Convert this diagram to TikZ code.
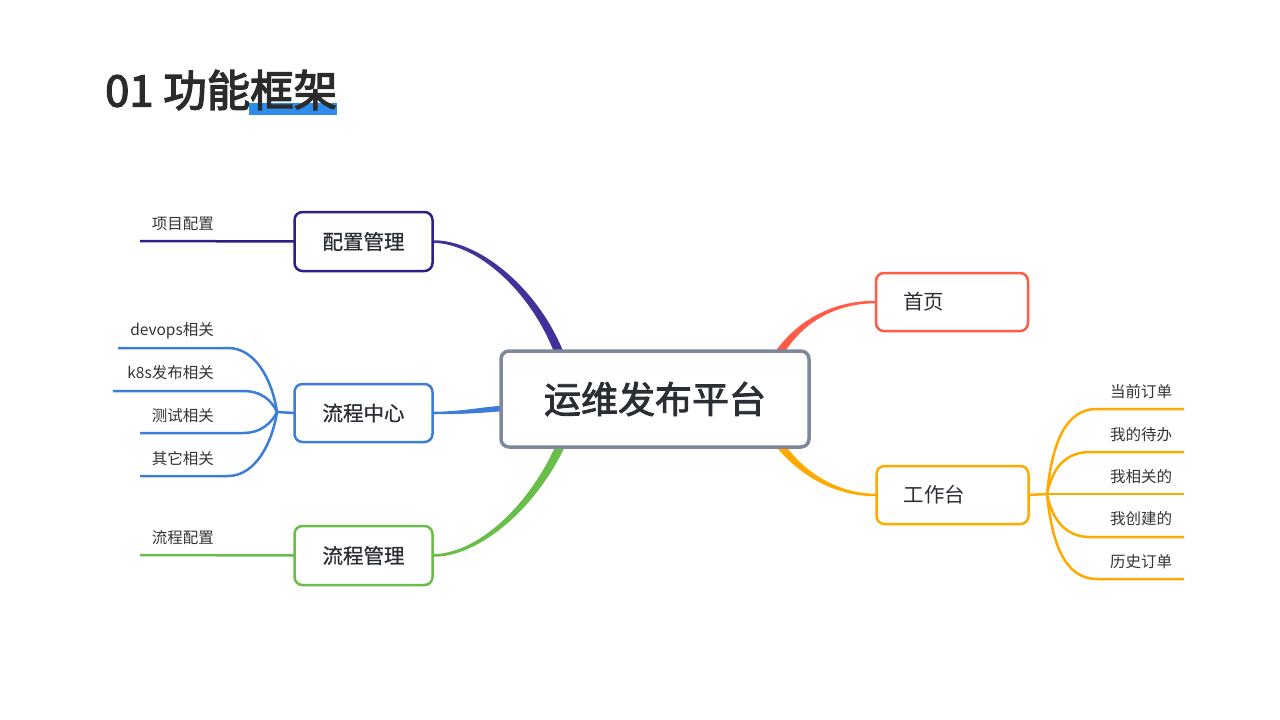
\documentclass[tikz,border=0pt]{standalone}
\usepackage{fontspec}
\setmainfont{Noto Sans CJK SC}
\newfontfamily\cjk{Noto Sans CJK SC}
\newfontfamily\cjkmed[FakeBold=0.8]{Noto Sans CJK SC}
\newfontfamily\cjkheavy[FakeBold=2.3]{Noto Sans CJK SC}
\newfontfamily\cjktitle[FakeBold=3]{Noto Sans CJK SC}
\usetikzlibrary{calc,backgrounds}
\definecolor{cIndigo}{HTML}{2D1E88}
\definecolor{cIndigoC}{HTML}{42319A}
\definecolor{cBlue}{HTML}{3B7DD8}
\definecolor{cGreen}{HTML}{68BE48}
\definecolor{cRed}{HTML}{FF5B47}
\definecolor{cOrange}{HTML}{FFAA00}
\definecolor{cGray}{HTML}{7D889B}
\definecolor{cText}{HTML}{2A2F36}
\definecolor{cLbl}{HTML}{333333}
\definecolor{cTitle}{HTML}{2B2B2B}
\definecolor{cHl}{HTML}{2E8CEB}
\begin{document}
\begin{tikzpicture}[x=1pt,y=-1pt,
  box/.style={draw, fill=white, rounded corners=8pt, line width=2.5pt, outer sep=0pt, inner sep=0pt, text=cText},
  lbox/.style={box, minimum width=138pt, minimum height=59pt, font=\cjkmed\fontsize{20.5}{24}\selectfont},
  rbox/.style={box, minimum height=58pt, inner xsep=27pt, text width=98pt, align=left, font=\cjk\fontsize{20.5}{24}\selectfont},
  lbl/.style={inner sep=0pt, text=cLbl, font=\cjk\fontsize{15.5}{18}\selectfont},
  branch/.style={line width=2.5pt},
]
\useasboundingbox (0,0) rectangle (1280,720);

% title
\node[inner sep=0pt, anchor=west, text=cTitle, font=\cjktitle\fontsize{43.5}{52}\selectfont] (title) at (105,90) {01 功能框架};

% main nodes
\node[box, draw=cGray, line width=3.5pt, minimum width=308pt, minimum height=96pt, font=\cjkheavy\fontsize{37}{44}\selectfont] (ctr) at (655,399) {运维发布平台};
\node[lbox, draw=cIndigo] (cfg) at (363.5,241.5) {配置管理};
\node[lbox, draw=cBlue, minimum height=58pt] (flowc) at (363.5,413) {流程中心};
\node[lbox, draw=cGreen] (flowm) at (363.5,555.5) {流程管理};
\node[rbox, draw=cRed] (home) at (952,302) {首页};
\node[rbox, draw=cOrange] (work) at (952.5,495) {工作台};

% labels
\node[lbl, anchor=east] (l1) at (214,224) {项目配置};
\node[lbl, anchor=east] (l2) at (214,331) {devops相关};
\node[lbl, anchor=east] (l3) at (214,373) {k8s发布相关};
\node[lbl, anchor=east] (l4) at (214,416) {测试相关};
\node[lbl, anchor=east] (l5) at (214,459) {其它相关};
\node[lbl, anchor=east] (l6) at (214,538) {流程配置};
\node[lbl, anchor=west] (r1) at (1110,392) {当前订单};
\node[lbl, anchor=west] (r2) at (1110,435) {我的待办};
\node[lbl, anchor=west] (r3) at (1110,477) {我相关的};
\node[lbl, anchor=west] (r4) at (1110,519) {我创建的};
\node[lbl, anchor=west] (r5) at (1110,562) {历史订单};

% free ends
\coordinate (e1) at (140,241);
\coordinate (hubL) at (277,412);
\coordinate (e2) at (118,348);
\coordinate (e3) at (113,391);
\coordinate (e4) at (140,433);
\coordinate (e5) at (140,476);
\coordinate (e6) at (140,555);
\coordinate (hubR) at (1047,494);
\coordinate (f1) at (1184,409);
\coordinate (f2) at (1184,452);
\coordinate (f3) at (1184,494);
\coordinate (f4) at (1184,537);
\coordinate (f5) at (1184,579);

\begin{scope}[on background layer]
  \fill[cHl] (249,103) rectangle (337,115);
  % tapered main connectors
  \fill[cIndigoC] ($(cfg.east)+(0,-1.25)$) .. controls +(47,-0.75) and +(-25.2,-67) .. ($(ctr.north west)+(64.2,5.5)$)
     -- ($(ctr.north west)+(55.8,8.5)$) .. controls +(-22.8,-65) and +(47,0.75) .. ($(cfg.east)+(0,1.25)$) -- cycle;
  \fill[cGreen] ($(flowm.east)+(0,1.25)$) .. controls +(47,0.75) and +(-29.1,65.2) .. ($(ctr.south west)+(66.1,-5.2)$)
     -- ($(ctr.south west)+(57.9,-8.8)$) .. controls +(-26.9,64.8) and +(47,-0.75) .. ($(flowm.east)+(0,-1.25)$) -- cycle;
  \fill[cBlue] ($(flowc.east)+(0,-1.25)$) .. controls +(32,-0.25) and +(-25,1.5) .. ($(ctr.west)+(4,6.5)$)
     -- ($(ctr.west)+(4,12)$) .. controls +(-25,2) and +(32,0) .. ($(flowc.east)+(0,1.25)$) -- cycle;
  \fill[cRed] ($(home.west)+(0,1.25)$) .. controls +(-46,0.25) and +(18.1,-35.25) .. ($(ctr.north east)+(-30.1,11.25)$)
     -- ($(ctr.north east)+(-37.9,6.75)$) .. controls +(21.9,-34.75) and +(-46,-0.25) .. ($(home.west)+(0,-1.25)$) -- cycle;
  \fill[cOrange] ($(work.west)+(0,-1.25)$) .. controls +(-46,-0.25) and +(18.25,30) .. ($(ctr.south east)+(-30.25,-11.5)$)
     -- ($(ctr.south east)+(-37.75,-6.5)$) .. controls +(21.75,30) and +(-46,0.25) .. ($(work.west)+(0,1.25)$) -- cycle;

  % sub branches left
  \draw[branch, cIndigo] (cfg.west) -- (e1);
  \draw[branch, cGreen] (flowm.west) -- (e6);
  \draw[branch, cBlue] (flowc.west) -- (hubL);
  \draw[branch, cBlue] (hubL) .. controls +(-5,-33) and +(27,0) .. ++(-49,-64) -- (e2);
  \draw[branch, cBlue] (hubL) .. controls +(-5,-11) and +(19,0) .. ++(-34,-21) -- (e3);
  \draw[branch, cBlue] (hubL) .. controls +(-5,10) and +(19,0) .. ++(-34,21) -- (e4);
  \draw[branch, cBlue] (hubL) .. controls +(-5,32) and +(27,0) .. ++(-49,64) -- (e5);

  % sub branches right
  \draw[branch, cOrange] (work.east) -- (hubR);
  \draw[branch, cOrange] (hubR) .. controls +(5,-50) and +(-32,0) .. ++(50,-85) -- (f1);
  \draw[branch, cOrange] (hubR) .. controls +(5,-25) and +(-25,0) .. ++(43,-42) -- (f2);
  \draw[branch, cOrange] (hubR) -- (f3);
  \draw[branch, cOrange] (hubR) .. controls +(5,25) and +(-25,0) .. ++(43,43) -- (f4);
  \draw[branch, cOrange] (hubR) .. controls +(5,50) and +(-32,0) .. ++(50,85) -- (f5);
\end{scope}
\end{tikzpicture}
\end{document}
